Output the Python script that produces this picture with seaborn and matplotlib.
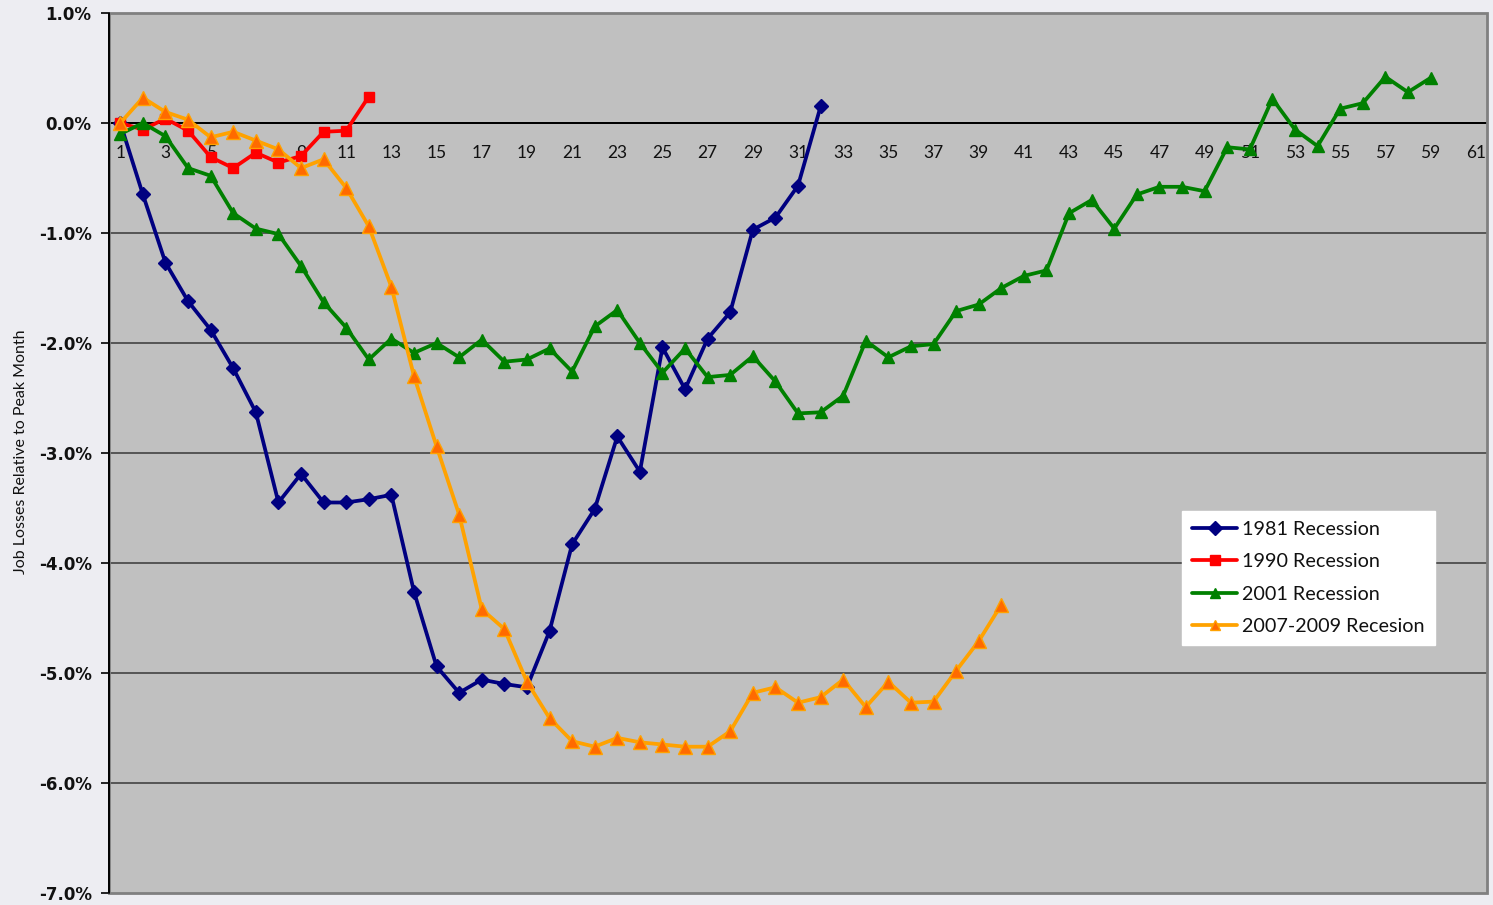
import numpy as np
import pandas as pd
import matplotlib
matplotlib.use("Agg")
import matplotlib.pyplot as plt
from matplotlib.patches import Rectangle
from matplotlib.ticker import FixedLocator, FuncFormatter
import seaborn as sns

# ---------------- data (percent job change relative to peak month) ----------------
rec_1981 = [0.00, -0.65, -1.27, -1.62, -1.88, -2.23, -2.63, -3.45, -3.19, -3.45,
            -3.45, -3.42, -3.38, -4.26, -4.94, -5.18, -5.06, -5.10, -5.13, -4.62,
            -3.83, -3.51, -2.85, -3.17, -2.04, -2.42, -1.96, -1.72, -0.97, -0.86,
            -0.57, 0.15]
rec_1990 = [0.00, -0.06, 0.04, -0.07, -0.31, -0.41, -0.27, -0.36, -0.30, -0.08,
            -0.07, 0.24]
rec_2001 = [-0.10, 0.00, -0.12, -0.41, -0.48, -0.82, -0.96, -1.01, -1.30, -1.63,
            -1.86, -2.15, -1.96, -2.09, -2.00, -2.13, -1.97, -2.17, -2.15, -2.05,
            -2.26, -1.85, -1.70, -2.00, -2.27, -2.05, -2.31, -2.29, -2.12, -2.35,
            -2.64, -2.63, -2.48, -1.98, -2.13, -2.03, -2.01, -1.71, -1.65, -1.50,
            -1.39, -1.34, -0.82, -0.70, -0.96, -0.65, -0.58, -0.58, -0.62, -0.22,
            -0.24, 0.22, -0.06, -0.21, 0.13, 0.18, 0.42, 0.28, 0.41]
rec_2007 = [0.00, 0.23, 0.10, 0.03, -0.13, -0.08, -0.16, -0.24, -0.41, -0.33,
            -0.59, -0.94, -1.49, -2.30, -2.94, -3.56, -4.42, -4.60, -5.08, -5.41,
            -5.62, -5.67, -5.59, -5.63, -5.65, -5.67, -5.67, -5.53, -5.18, -5.13,
            -5.27, -5.22, -5.06, -5.31, -5.08, -5.27, -5.26, -4.98, -4.71, -4.38]

series_names = ["1981 Recession", "1990 Recession", "2001 Recession", "2007-2009 Recesion"]
months = list(range(1, 62))
month_labels = [str(m) for m in months[::2]]
y_ticks = [1, 0, -1, -2, -3, -4, -5, -6, -7]
y_label = "Job Losses Relative to Peak Month"

# ---------------- styling ----------------
sns.set_theme(style="white")
plt.rcParams["font.family"] = ["Lato", "DejaVu Sans"]

fig = plt.figure(figsize=(14.93, 9.05), dpi=100)
fig.patch.set_facecolor("#ededf2")
ax = fig.add_axes([109 / 1493, 1 - 893 / 905, (1487 - 109) / 1493, (893 - 13) / 905])
ax.set_facecolor("#c0c0c0")

styles = [
    dict(color="#000080", marker="D", markersize=7.5, markerfacecolor="#000080", markeredgecolor="#000080"),
    dict(color="#ff0000", marker="s", markersize=7, markerfacecolor="#ff0000", markeredgecolor="#ff0000"),
    dict(color="#008000", marker="^", markersize=9, markerfacecolor="#008000", markeredgecolor="#008000"),
    dict(color="#ffa200", marker="^", markersize=10, markerfacecolor="#ff6a00", markeredgecolor="#ffa200"),
]
all_series = [rec_1981, rec_1990, rec_2001, rec_2007]

for vals, name, st in zip(all_series, series_names, styles):
    x = months[:len(vals)]
    sns.lineplot(x=x, y=vals, ax=ax, label=name, linewidth=2.7,
                 markeredgewidth=1.0, zorder=3, **st)

# gridlines
for yv in y_ticks[2:-1]:
    ax.axhline(yv, color="#555555", linewidth=1.4, zorder=1)
ax.axhline(0, color="#000000", linewidth=1.4, zorder=2)

ax.set_xlim(0.5, 61.5)
ax.set_ylim(-7, 1)

# x axis placed at zero
for s in ["top", "right", "left"]:
    ax.spines[s].set_visible(False)
ax.spines["bottom"].set_position(("data", 0))
ax.spines["bottom"].set_color("#000000")
ax.spines["bottom"].set_linewidth(1.4)
ax.spines["bottom"].set_zorder(2)

ax.xaxis.set_major_locator(FixedLocator(months[::2]))
ax.set_xticklabels(month_labels, fontsize=12.5, color="#111111")
ax.xaxis.set_minor_locator(FixedLocator([m + 0.5 for m in months]))
ax.tick_params(axis="x", which="major", length=0, pad=16)
ax.tick_params(axis="x", which="minor", length=6, width=1.2, color="#000000", direction="out")

# y axis
ax.set_yticks(y_ticks)
ax.yaxis.set_major_formatter(FuncFormatter(lambda v, p: f"{v:.1f}%"))
ax.tick_params(axis="y", which="major", length=6, width=1.2, color="#000000",
               direction="out", left=True, pad=6.5)
for lab in ax.get_yticklabels():
    lab.set_fontweight("bold")
    lab.set_fontsize(12)
    lab.set_family("DejaVu Sans")
    lab.set_color("#111111")

# left black axis line and grey frame
ax.add_patch(Rectangle((0, 0), 1, 1, transform=ax.transAxes, fill=False,
                       edgecolor="#808080", linewidth=2.0, zorder=4, clip_on=False))
ax.plot([0, 0], [0, 1], transform=ax.transAxes, color="#000000", linewidth=1.4,
        zorder=5, clip_on=False)

ax.set_xlabel("")
ax.set_ylabel(y_label, fontsize=11.5, color="#111111")
ax.yaxis.set_label_coords((28 - 109) / 1378, 0.5 - (452 - 453) / 880)

leg = ax.legend(loc="upper left", bbox_to_anchor=((1182 - 109) / 1378, 1 - (511 - 13) / 880),
                frameon=True, fancybox=False, fontsize=14.2, handlelength=2.3,
                borderpad=0.5, labelspacing=0.78, handletextpad=0.25, borderaxespad=0)
leg.get_frame().set_facecolor("white")
leg.get_frame().set_edgecolor("white")
leg.get_frame().set_alpha(1)
for h in leg.get_lines():
    h.set_markersize(7)
for t in leg.get_texts():
    t.set_color("#111111")

fig.savefig("out.png", dpi=100, facecolor=fig.get_facecolor())
